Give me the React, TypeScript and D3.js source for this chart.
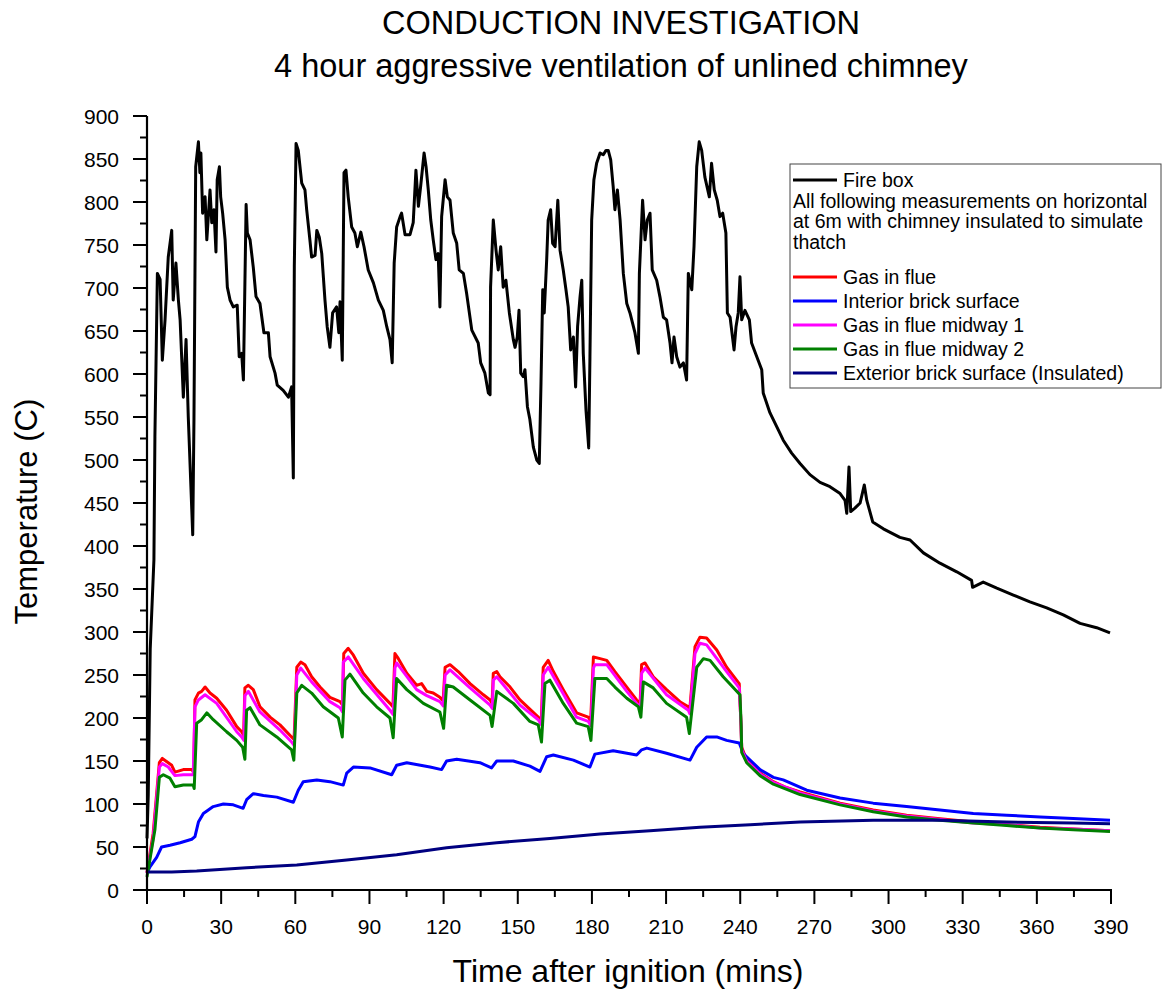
import React from 'react';
import * as d3 from 'd3';

type P = [number, number];

const xTicks = [0, 30, 60, 90, 120, 150, 180, 210, 240, 270, 300, 330, 360, 390];
const yTicks = [0, 50, 100, 150, 200, 250, 300, 350, 400, 450, 500, 550, 600, 650, 700, 750, 800, 850, 900];

const titleLines = ['CONDUCTION INVESTIGATION', '4 hour aggressive ventilation of unlined chimney'];
const xLabel = 'Time after ignition (mins)';
const yLabel = 'Temperature (C)';

const fireBox: P[] = [[0,60],[0.5,110],[1.3,280],[2.8,384],[3.2,527],[4.2,717],[5.3,710],[6.2,616],[7.3,663],[8.6,736],[10.0,767],[10.6,686],[11.7,729],[12.7,686],[13.4,663],[14.7,573],[15.8,640],[16.7,550],[18.5,413],[19.0,547],[19.7,841],[20.8,870],[21.4,834],[21.8,857],[22.5,787],[23.5,806],[24.2,756],[25.5,814],[26.2,776],[27.1,791],[27.9,742],[28.4,826],[29.3,841],[29.8,806],[30.6,787],[31.6,756],[32.5,701],[33.6,686],[34.9,678],[36.5,680],[37.3,620],[38.3,624],[39.0,593],[40.1,797],[40.6,764],[41.7,756],[43.0,724],[44.1,690],[45.7,682],[47.3,648],[49.1,648],[49.8,620],[51.8,601],[52.7,587],[55.1,581],[57.2,573],[58.5,585],[59.2,479],[59.6,725],[60.3,868],[61.2,860],[62.6,822],[63.9,814],[64.6,791],[65.9,756],[66.6,736],[68.0,738],[68.7,767],[69.7,759],[70.7,740],[72.0,686],[72.9,655],[74.0,631],[75.1,671],[76.7,678],[77.6,648],[78.1,684],[79.0,616],[79.7,834],[80.5,837],[81.4,806],[82.8,771],[84.1,764],[85.1,748],[86.5,765],[87.8,748],[89.5,721],[91.6,706],[93.6,686],[95.6,674],[97.0,655],[98.3,640],[99.2,613],[100.0,729],[101.0,771],[102.4,783],[103.0,787],[104.4,762],[106.4,762],[107.7,776],[108.8,837],[109.8,795],[110.7,818],[112.1,857],[112.9,841],[113.8,814],[114.8,779],[115.8,756],[116.9,733],[117.8,740],[118.5,678],[119.2,783],[120.6,826],[121.5,806],[122.6,802],[123.9,764],[125.3,752],[126.3,721],[128.0,717],[129.3,694],[131.4,651],[134.0,636],[135.0,613],[136.7,601],[138.1,578],[138.8,576],[139.0,701],[140.1,779],[141.2,744],[142.1,721],[143.1,748],[144.1,701],[145.2,709],[146.6,671],[148.2,640],[148.9,631],[149.8,643],[150.5,674],[151.2,601],[152.2,597],[152.9,605],[153.9,562],[154.9,547],[156.3,515],[157.7,500],[158.7,496],[159.4,590],[160.1,698],[160.7,671],[161.7,733],[162.3,779],[163.3,791],[164.1,752],[165.1,748],[166.2,802],[167.1,744],[168.4,721],[169.5,698],[170.4,678],[171.4,628],[172.5,643],[173.4,585],[174.2,655],[175.2,690],[175.9,709],[176.5,624],[177.6,558],[178.7,514],[179.2,620],[179.9,779],[180.8,826],[181.9,845],[183.3,857],[184.6,855],[185.7,860],[186.6,860],[187.6,849],[188.6,818],[189.3,791],[190.3,814],[191.4,779],[192.7,717],[194.1,682],[195.4,671],[197.4,648],[198.8,624],[199.2,717],[200.5,802],[201.5,756],[202.4,779],[203.5,787],[204.4,721],[206.2,709],[207.5,690],[208.9,666],[210.2,663],[211.6,636],[212.4,613],[213.2,643],[214.3,620],[215.6,608],[217.0,613],[218.3,593],[219.0,717],[220.4,698],[221.3,748],[222.4,841],[223.4,870],[224.4,860],[225.7,829],[227.5,806],[228.4,845],[229.5,814],[230.7,802],[231.8,783],[232.9,787],[234.2,764],[234.8,671],[235.9,666],[237.5,628],[238.3,655],[239.2,671],[239.9,713],[240.6,663],[241.9,674],[243.7,663],[244.6,636],[246.7,620],[248.7,605],[249.3,578],[252.0,555],[255.4,535],[257.4,523],[260.8,508],[264.2,496],[268.2,483],[272.3,474],[276.3,469],[280.4,461],[282.4,453],[283.1,438],[284.0,492],[284.7,440],[286.4,444],[288.5,450],[290.2,471],[291.2,453],[293.6,428],[297.9,420],[304.6,410],[308.7,407],[314.1,392],[320.8,380],[327.6,370],[333.6,360],[334.0,352],[338.3,358],[343.8,351],[350.5,343],[357.2,335],[364.0,328],[370.7,320],[377.5,310],[384.2,305],[389.6,299]];

const gasInFlue: P[] = [[0,20],[2.5,66],[5.0,148],[6.2,153],[8.6,148],[10.0,145],[11.3,137],[14.7,140],[18.1,140],[18.9,137],[19.4,221],[20.8,229],[22.1,231],[23.5,236],[25.5,229],[28.2,223],[32.2,209],[36.3,190],[38.3,184],[39.1,180],[39.6,235],[41.0,238],[43.0,233],[45.7,213],[49.8,201],[53.8,192],[58.5,178],[59.5,175],[60.6,259],[62.2,265],[63.9,262],[66.6,248],[70.0,236],[74.0,224],[78.1,219],[79.1,215],[79.6,275],[81.4,281],[83.5,273],[87.5,252],[92.9,233],[98.3,217],[99.5,213],[100.3,275],[101.7,269],[105.1,252],[109.1,238],[111.1,240],[113.2,231],[115.8,229],[118.5,224],[119.8,220],[120.6,259],[122.6,262],[125.9,254],[130.7,240],[136.1,227],[138.8,221],[139.6,217],[140.1,252],[141.5,254],[142.8,248],[146.9,236],[150.9,221],[158.3,201],[159.5,197],[160.3,259],[162.3,267],[164.4,254],[168.4,233],[173.8,206],[178.5,201],[179.5,197],[180.6,271],[183.3,269],[186.0,267],[189.3,254],[194.1,236],[198.1,221],[199.5,217],[200.1,262],[201.5,264],[204.8,248],[210.2,233],[215.6,219],[219.0,213],[219.6,210],[221.7,283],[223.7,294],[226.4,293],[230.5,279],[234.5,259],[239.6,240],[240.2,200],[240.6,166],[242.6,151],[248.0,136],[253.4,126],[258.0,120],[264.2,114],[280.4,101],[293.8,93],[307.3,87],[320.8,83],[334.3,79],[347.8,76],[361.3,73],[374.7,71],[389.6,69]];

const interiorBrick: P[] = [[0,20],[1.2,27],[3.9,38],[5.9,50],[9.3,52],[13.4,55],[18.1,59],[19.4,62],[20.8,79],[22.8,89],[26.8,97],[30.9,100],[34.9,99],[38.9,95],[40.3,105],[43.0,112],[47.1,110],[52.5,108],[59.2,102],[61.2,116],[63.2,126],[68.7,128],[74.0,126],[79.4,122],[80.8,136],[83.5,143],[90.2,142],[99.0,134],[101.0,145],[105.1,148],[114.5,143],[119.2,140],[121.2,150],[125.3,152],[134.7,148],[139.4,142],[141.5,150],[148.2,150],[154.9,144],[159.0,138],[161.7,155],[164.4,157],[172.5,151],[179.2,143],[181.2,158],[188.6,162],[198.1,157],[200.1,163],[202.2,165],[210.2,159],[219.7,151],[222.4,166],[226.4,178],[230.5,178],[234.5,174],[239.6,171],[241.2,159],[242.6,155],[248.0,140],[253.4,131],[257.4,128],[266.9,116],[280.4,107],[293.8,101],[307.3,97],[320.8,93],[334.3,89],[347.8,87],[361.3,85],[374.7,83],[389.6,81]];

const midway1: P[] = [[0,20],[2.5,60],[5.0,143],[6.2,147],[8.6,143],[11.3,133],[14.7,134],[18.7,134],[19.4,213],[20.8,221],[23.5,227],[28.2,217],[36.3,184],[38.3,178],[39.2,174],[39.6,226],[41.0,231],[45.7,207],[53.8,186],[58.5,172],[59.6,168],[60.6,250],[62.2,258],[66.6,242],[74.0,219],[78.1,212],[79.1,207],[79.4,265],[81.4,271],[87.5,246],[98.3,209],[99.6,204],[100.3,258],[101.0,264],[109.1,233],[113.2,226],[118.5,219],[119.9,214],[120.6,250],[122.6,256],[130.7,235],[138.8,215],[139.7,211],[140.1,244],[141.5,248],[150.9,215],[158.3,198],[159.6,192],[160.3,250],[162.3,259],[173.8,201],[178.5,196],[179.6,191],[180.6,258],[181.2,262],[186.0,262],[194.1,231],[198.1,217],[199.6,212],[200.1,252],[201.5,258],[210.2,227],[219.0,209],[219.6,205],[221.7,275],[223.7,287],[226.4,285],[234.5,254],[239.6,235],[240.3,195],[240.6,163],[242.6,150],[248.0,135],[253.4,125],[264.2,113],[280.4,100],[293.8,92],[307.3,86],[320.8,82],[334.3,78],[347.8,76],[361.3,72],[374.7,71],[389.6,69]];

const midway2: P[] = [[0,15],[3.2,70],[5.0,131],[6.6,134],[9.3,130],[11.3,120],[14.7,122],[18.7,122],[19.1,118],[20.1,194],[22.1,198],[24.2,206],[26.8,198],[32.2,184],[36.3,174],[38.7,166],[39.6,152],[40.3,209],[41.7,212],[45.7,192],[52.5,178],[58.5,163],[59.4,151],[60.6,229],[62.6,238],[66.6,229],[71.3,213],[77.4,200],[79.0,178],[80.1,244],[82.1,251],[87.5,229],[92.9,213],[98.3,200],[99.6,177],[101.0,246],[105.1,233],[111.8,217],[118.5,207],[120.0,188],[121.2,238],[123.9,236],[130.7,221],[138.8,203],[139.6,190],[141.5,231],[148.2,217],[154.9,196],[158.3,192],[159.6,172],[161.0,240],[163.0,244],[168.4,217],[173.8,194],[178.5,190],[179.6,174],[181.2,246],[186.0,246],[189.3,236],[194.1,223],[198.8,213],[199.8,201],[200.8,242],[204.8,235],[210.2,217],[218.3,201],[219.4,182],[222.4,259],[225.1,269],[227.8,267],[233.1,248],[239.9,227],[240.4,190],[240.6,160],[242.6,148],[248.0,133],[253.4,123],[264.2,111],[280.4,99],[293.8,91],[307.3,85],[320.8,81],[334.3,78],[347.8,75],[361.3,72],[374.7,70],[389.6,68]];

const exteriorBrick: P[] = [[0,21],[10,21],[20.1,22],[40.3,26],[60.6,29],[80.8,35],[101.0,41],[121.2,49],[141.5,55],[163.0,60],[183.3,65],[203.5,69],[223.7,73],[244.0,76],[264.2,79],[293.8,81],[320.8,81],[347.8,79],[374.7,78],[389.6,77]];

const noteLines = ['All following measurements on horizontal', 'at 6m with chimney insulated to simulate', 'thatch'];

const series = [
  { name: 'Fire box', color: '#000000', data: fireBox },
  { name: 'Gas in flue', color: '#FF0000', data: gasInFlue },
  { name: 'Interior brick surface', color: '#0000FF', data: interiorBrick },
  { name: 'Gas in flue midway 1', color: '#FF00FF', data: midway1 },
  { name: 'Gas in flue midway 2', color: '#008000', data: midway2 },
  { name: 'Exterior brick surface (Insulated)', color: '#000080', data: exteriorBrick },
];

const FONT = '"Liberation Sans", Arial, Helvetica, sans-serif';

export default function App() {
  const x = d3.scaleLinear().domain([0, 390]).range([147, 1111]);
  const y = d3.scaleLinear().domain([0, 900]).range([890, 116]);
  const line = d3.line<P>().x(d => x(d[0])).y(d => y(d[1]));
  const xMinor = d3.range(15, 390, 30);
  const yMinor = d3.range(25, 900, 50);

  const legX = 790, legY = 164, legW = 371, legH = 224;
  const lineX1 = 793, lineX2 = 837, textX = 843;
  const rowY = [180, 277, 301, 325, 349, 373];
  const noteY = [200.5, 221, 241.5];

  return (
    <svg width={1168} height={992} style={{ position: 'absolute', left: 0, top: 0, background: '#fff' }} fontFamily={FONT}>
      <rect x={0} y={0} width={1168} height={992} fill="#fff" />
      {titleLines.map((t, i) => (
        <text key={t} x={621} y={i === 0 ? 34 : 77} fontSize={32.5} textAnchor="middle" fill="#000">{t}</text>
      ))}

      {series.map(s => (
        <path key={s.name} d={line(s.data) || ''} fill="none" stroke={s.color} strokeWidth={3} strokeLinejoin="round" />
      ))}

      <line x1={147} x2={147} y1={y(900)} y2={891} stroke="#000" strokeWidth={2.2} />
      <line x1={146} x2={1112} y1={890} y2={890} stroke="#000" strokeWidth={2.2} />
      {yTicks.map(v => (
        <g key={'y' + v}>
          <line x1={133} x2={147} y1={y(v)} y2={y(v)} stroke="#000" strokeWidth={2} />
          <text x={119} y={y(v) + 7.5} fontSize={21} textAnchor="end" fill="#000">{v}</text>
        </g>
      ))}
      {yMinor.map(v => (
        <line key={'ym' + v} x1={140} x2={147} y1={y(v)} y2={y(v)} stroke="#000" strokeWidth={2} />
      ))}
      {xTicks.map(v => (
        <g key={'x' + v}>
          <line x1={x(v)} x2={x(v)} y1={890} y2={904} stroke="#000" strokeWidth={2} />
          <text x={x(v)} y={934} fontSize={21} textAnchor="middle" fill="#000">{v}</text>
        </g>
      ))}
      {xMinor.map(v => (
        <line key={'xm' + v} x1={x(v)} x2={x(v)} y1={890} y2={897} stroke="#000" strokeWidth={2} />
      ))}

      <text x={628} y={982} fontSize={32} textAnchor="middle" fill="#000">{xLabel}</text>
      <text transform={`translate(37,${y(440)}) rotate(-90)`} fontSize={31} textAnchor="middle" fill="#000">{yLabel}</text>

      <rect x={legX} y={legY} width={legW} height={legH} fill="#fff" stroke="#444" strokeWidth={1} />
      {series.map((s, i) => (
        <g key={'leg' + s.name}>
          <line x1={lineX1} x2={lineX2} y1={rowY[i]} y2={rowY[i]} stroke={s.color} strokeWidth={3} />
          <text x={textX} y={rowY[i] + 7} fontSize={19.5} fill="#000">{s.name}</text>
        </g>
      ))}
      {noteLines.map((t, i) => (
        <text key={t} x={793} y={noteY[i] + 7} fontSize={19.5} fill="#000">{t}</text>
      ))}
    </svg>
  );
}
